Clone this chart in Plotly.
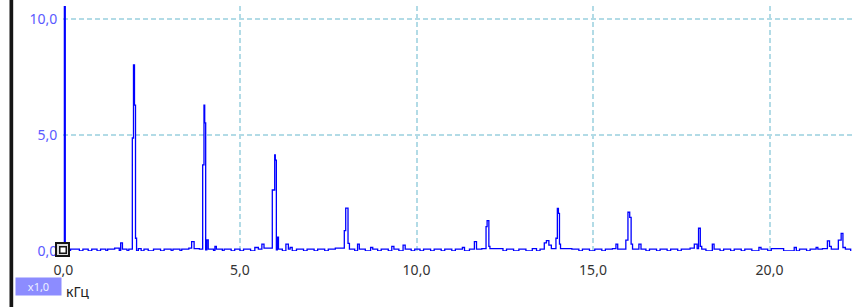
import plotly.graph_objects as go

# Spectrum (kHz, amplitude) as step points (value holds until next frequency)
freq_khz = [
    0.000, 0.025, 0.050, 0.20, 0.45, 0.55, 0.70, 0.80, 0.95, 1.05, 1.20, 1.25, 1.45, 1.58, 1.62, 1.67, 1.80, 1.85,
    1.950, 1.983, 2.011, 2.040, 2.070, 2.12, 2.20, 2.28, 2.40, 2.55, 2.75, 2.85, 3.05, 3.10, 3.30, 3.35, 3.55, 3.63,
    3.70, 3.85, 3.943, 3.980, 4.000, 4.028, 4.060, 4.100, 4.25, 4.29, 4.33, 4.50, 4.55, 4.75, 4.85, 5.00, 5.10, 5.30,
    5.42, 5.52, 5.62, 5.68, 5.915, 5.983, 6.000, 6.030, 6.057, 6.090, 6.20, 6.30, 6.37, 6.42, 6.48, 6.60, 6.80, 6.90,
    7.10, 7.20, 7.40, 7.50, 7.70, 7.955, 7.995, 8.060, 8.100, 8.25, 8.33, 8.38, 8.55, 8.70, 8.76, 8.90, 9.00, 9.20,
    9.30, 9.36, 9.50, 9.62, 9.68, 9.85, 9.95, 10.10, 10.20, 10.40, 10.50, 10.70, 10.80, 11.00, 11.10, 11.30, 11.36,
    11.50, 11.64, 11.70, 11.85, 11.97, 12.00, 12.05, 12.08, 12.30, 12.45, 12.55, 12.75, 12.90, 13.10, 13.28, 13.40,
    13.50, 13.62, 13.68, 13.75, 13.82, 13.95, 13.99, 14.02, 14.05, 14.08, 14.40, 14.60, 14.70, 14.90, 15.05, 15.25,
    15.35, 15.55, 15.65, 15.70, 15.93, 15.99, 16.04, 16.08, 16.12, 16.30, 16.36, 16.50, 16.60, 16.80, 16.90, 17.10,
    17.20, 17.40, 17.50, 17.75, 17.87, 17.95, 17.99, 18.04, 18.08, 18.20, 18.38, 18.43, 18.60, 18.70, 18.90, 19.00,
    19.20, 19.30, 19.50, 19.70, 19.76, 19.95, 20.05, 20.40, 20.70, 20.76, 20.85, 21.05, 21.15, 21.32, 21.37, 21.50,
    21.64, 21.70, 21.75, 21.95, 22.03, 22.08, 22.15, 22.30,
]
amplitude = [
    0.0, 12.0, 0.0, 0.08, 0.0, 0.08, 0.0, 0.08, 0.0, 0.08, 0.0, 0.08, 0.12, 0.0, 0.35, 0.08, 0.0, 0.08,
    4.87, 8.02, 6.29, 0.55, 0.0, 0.10, 0.0, 0.08, 0.0, 0.08, 0.0, 0.08, 0.0, 0.08, 0.0, 0.08, 0.12, 0.40,
    0.10, 0.08, 3.71, 6.29, 5.52, 0.05, 0.48, 0.08, 0.0, 0.20, 0.08, 0.0, 0.08, 0.0, 0.08, 0.0, 0.08, 0.0,
    0.15, 0.08, 0.30, 0.12, 2.63, 4.14, 3.92, 0.05, 0.60, 0.08, 0.0, 0.30, 0.08, 0.15, 0.0, 0.08, 0.0, 0.08,
    0.0, 0.08, 0.0, 0.08, 0.12, 0.875, 1.85, 0.33, 0.08, 0.0, 0.30, 0.08, 0.0, 0.15, 0.08, 0.0, 0.08, 0.0,
    0.20, 0.08, 0.0, 0.25, 0.08, 0.0, 0.08, 0.0, 0.08, 0.0, 0.08, 0.0, 0.08, 0.0, 0.08, 0.15, 0.0,
    0.08, 0.40, 0.08, 0.10, 1.05, 1.31, 0.20, 0.10, 0.10, 0.0, 0.08, 0.0, 0.08, 0.0, 0.10, 0.0,
    0.08, 0.35, 0.45, 0.25, 0.10, 0.55, 1.84, 1.62, 0.30, 0.10, 0.08, 0.0, 0.08, 0.0, 0.08, 0.0,
    0.08, 0.10, 0.30, 0.08, 0.47, 1.67, 1.45, 0.30, 0.08, 0.30, 0.08, 0.0, 0.08, 0.0, 0.08, 0.0,
    0.08, 0.0, 0.08, 0.12, 0.30, 0.10, 0.98, 0.20, 0.08, 0.0, 0.30, 0.08, 0.0, 0.08, 0.0, 0.08,
    0.0, 0.08, 0.0, 0.15, 0.08, 0.0, 0.10, 0.0, 0.15, 0.0, 0.08, 0.0, 0.08, 0.15, 0.08, 0.10,
    0.44, 0.20, 0.08, 0.47, 0.76, 0.15, 0.08, 0.0,
]

x_tick_vals = [0, 5, 10, 15, 20]
x_tick_text = ["0,0", "5,0", "10,0", "15,0", "20,0"]
y_tick_vals = [0, 5, 10]
y_tick_text = ["0,0", "5,0", "10,0"]
x_unit = "кГц"
scale_label = "x1,0"
cursor_pos = (0, 0)

W, H = 854, 307
ML, MR, MT, MB = 63, 2, 6, 56
PW, PH = W - ML - MR, H - MT - MB


def px_x(p):
    return (p - ML) / PW


def px_y(p):
    return (H - MB - p) / PH


FONT = "Noto Sans"
GRID = "#b2dbe6"

fig = go.Figure()
fig.add_trace(go.Scatter(
    x=freq_khz, y=amplitude, mode="lines",
    line=dict(color="#0000ff", width=1.3, shape="hv"),
    hoverinfo="skip", showlegend=False,
))

fig.update_layout(
    width=W, height=H,
    margin=dict(l=ML, r=MR, t=MT, b=MB, pad=0),
    paper_bgcolor="white", plot_bgcolor="white",
    font=dict(family=FONT, size=14),
    showlegend=False,
    xaxis=dict(
        range=[-0.014, 22.337], tickvals=x_tick_vals, ticktext=x_tick_text,
        showgrid=True, gridcolor=GRID, griddash="5px,3px", gridwidth=1.5,
        zeroline=False, showline=False, ticks="outside", ticklen=6, tickcolor="rgba(0,0,0,0)",
        tickfont=dict(family=FONT, size=14, color="#333333"),
    ),
    yaxis=dict(
        range=[0, 10.56], tickvals=y_tick_vals, ticktext=y_tick_text,
        showgrid=True, gridcolor=GRID, griddash="5px,3px", gridwidth=1.5,
        zeroline=False, showline=False, ticks="outside", ticklen=2, tickcolor="rgba(0,0,0,0)",
        tickfont=dict(family=FONT, size=14, color="#5a5aff"),
    ),
)

fig.update_layout(shapes=[
    # left dark bar
    dict(type="rect", xref="paper", yref="paper",
         x0=px_x(9.5), x1=px_x(13.2), y0=px_y(H), y1=px_y(0),
         fillcolor="#151515", line=dict(width=0), layer="above"),
])

# cursor marker at origin (outer and inner squares)
fig.add_annotation(
    x=cursor_pos[0], y=cursor_pos[1], xref="x", yref="y", text="", showarrow=False,
    width=11, height=11, borderpad=0, borderwidth=2, bordercolor="#151515",
    bgcolor="#dcdcdc", xanchor="center", yanchor="middle", xshift=-0.5, yshift=1.5,
)
fig.add_annotation(
    x=cursor_pos[0], y=cursor_pos[1], xref="x", yref="y", text="", showarrow=False,
    width=5, height=5, borderpad=0, borderwidth=1.5, bordercolor="#151515",
    bgcolor="white", xanchor="center", yanchor="middle", xshift=-0.5, yshift=1.5,
)

fig.add_annotation(
    xref="paper", yref="paper", x=px_x(15), y=px_y(277), xanchor="left", yanchor="top",
    text=scale_label, showarrow=False, width=45, height=17, bgcolor="#8c8cff",
    borderpad=0, font=dict(family=FONT, size=11, color="#eef0ff"),
)
fig.add_annotation(
    xref="paper", yref="paper", x=px_x(64), y=px_y(291), xanchor="left", yanchor="middle",
    text=x_unit, showarrow=False, font=dict(family=FONT, size=14, color="#222222"),
)

fig.write_html(
    "out.html",
    config={"displayModeBar": False},
    post_script="document.body.style.margin='0';document.body.style.padding='0';",
)
